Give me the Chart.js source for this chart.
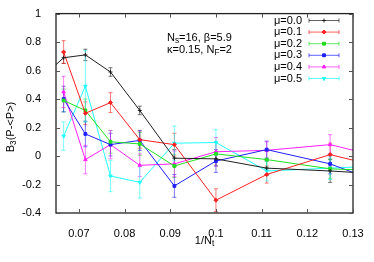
<!DOCTYPE html>
<html>
<head>
<meta charset="utf-8">
<script src="https://cdn.jsdelivr.net/npm/chart.js@4/dist/chart.umd.min.js"></script>
<style>
  body { margin: 0; background: #fff; }
</style>
</head>
<body>
<canvas id="chart" width="374" height="262"></canvas>
<script>
// Nt values, x is 1/Nt
const nt = [16, 15, 14, 13, 12, 11, 10, 9, 8, 7];
const labels = ['\u03bc=0.0', '\u03bc=0.1', '\u03bc=0.2', '\u03bc=0.3', '\u03bc=0.4', '\u03bc=0.5'];

// B3 values per mu (null = no point)
const mu00 = [0.57, 0.69, 0.71, 0.59, 0.32, -0.015, -0.02, -0.085, -0.105, -0.14];
const mu01 = [null, 0.73, 0.30, 0.375, 0.115, 0.08, -0.31, -0.13, 0.01, -0.13];
const mu02 = [null, 0.39, 0.32, 0.10, 0.085, -0.07, 0.015, -0.025, -0.09, -0.11];
const mu03 = [null, 0.40, 0.155, 0.08, 0.11, -0.21, -0.035, 0.045, -0.055, -0.27];
const mu04 = [null, 0.45, -0.025, 0.08, -0.065, -0.055, 0.03, 0.04, 0.08, -0.06];
const mu05 = [null, 0.14, 0.49, -0.14, -0.185, 0.09, 0.095, -0.105, -0.085, -0.06];

// error bars (half widths)
const err00 = [0.04, 0.04, 0.04, 0.03, 0.03, 0.06, 0.05, 0.05, 0.08, 0.08];
const err01 = [null, 0.08, 0.08, 0.07, 0.06, 0.08, 0.08, 0.06, 0.08, 0.08];
const err02 = [null, 0.08, 0.08, 0.08, 0.08, 0.08, 0.08, 0.06, 0.07, 0.08];
const err03 = [null, 0.09, 0.09, 0.08, 0.07, 0.08, 0.08, 0.06, 0.07, 0.08];
const err04 = [null, 0.11, 0.10, 0.10, 0.08, 0.09, 0.10, 0.06, 0.07, 0.08];
const err05 = [null, 0.10, 0.25, 0.11, 0.11, 0.12, 0.09, 0.07, 0.08, 0.08];

const xTicks = [0.07, 0.08, 0.09, 0.1, 0.11, 0.12, 0.13];
const yTicks = [-0.4, -0.2, 0, 0.2, 0.4, 0.6, 0.8, 1];

const colors = ['#202020', '#ff2020', '#20e020', '#2020ff', '#ff20ff', '#20ffff'];
const styles = ['cross', 'rect', 'rect', 'rect', 'triangle', 'triangle'];
const rotations = [0, 45, 0, 0, 0, 180];
const values = [mu00, mu01, mu02, mu03, mu04, mu05];
const errors = [err00, err01, err02, err03, err04, err05];

function points(vals, errs) {
  const out = [];
  vals.forEach((v, i) => {
    if (v !== null) out.push({ x: 1 / nt[i], y: v, err: errs[i] });
  });
  return out;
}

const FONT = '"Liberation Sans", Arial, sans-serif';

// draw text with subscript parts: [[text, isSub], ...]
function subText(ctx, parts, x, y, size, align) {
  let total = 0;
  parts.forEach(p => {
    ctx.font = (p[1] ? size * 0.75 : size) + 'px ' + FONT;
    total += ctx.measureText(p[0]).width;
  });
  let cx = align === 'center' ? x - total / 2 : x;
  ctx.textAlign = 'left';
  ctx.textBaseline = 'middle';
  parts.forEach(p => {
    ctx.font = (p[1] ? size * 0.75 : size) + 'px ' + FONT;
    ctx.fillText(p[0], cx, p[1] ? y + 3 : y);
    cx += ctx.measureText(p[0]).width;
  });
}

const gnuplotStuff = {
  id: 'gnuplotStuff',
  beforeDatasetsDraw(chart) {
    const ctx = chart.ctx;
    const a = chart.chartArea;
    const ys = chart.scales.y;
    ctx.save();
    ctx.beginPath();
    ctx.rect(a.left, a.top, a.right - a.left, a.bottom - a.top);
    ctx.clip();
    ctx.globalAlpha = 0.6;
    chart.data.datasets.forEach(ds => {
      ctx.strokeStyle = ds.borderColor;
      ctx.lineWidth = 1;
      ds.data.forEach(p => {
        const px = chart.scales.x.getPixelForValue(p.x);
        const y1 = ys.getPixelForValue(p.y + p.err);
        const y2 = ys.getPixelForValue(p.y - p.err);
        ctx.beginPath();
        ctx.moveTo(px, y1); ctx.lineTo(px, y2);
        ctx.moveTo(px - 2, y1); ctx.lineTo(px + 2, y1);
        ctx.moveTo(px - 2, y2); ctx.lineTo(px + 2, y2);
        ctx.stroke();
      });
    });
    ctx.restore();
  },
  afterDraw(chart) {
    const ctx = chart.ctx;
    const a = chart.chartArea;
    const xs = chart.scales.x, ys = chart.scales.y;
    ctx.save();
    // border
    ctx.strokeStyle = '#222';
    ctx.lineWidth = 1.3;
    ctx.strokeRect(a.left, a.top, a.right - a.left, a.bottom - a.top);
    // inward ticks on all sides
    ctx.lineWidth = 1;
    ctx.strokeStyle = '#555';
    ctx.beginPath();
    xTicks.forEach(t => {
      const px = Math.round(xs.getPixelForValue(t)) + 0.5;
      ctx.moveTo(px, a.bottom); ctx.lineTo(px, a.bottom - 4);
      ctx.moveTo(px, a.top); ctx.lineTo(px, a.top + 4);
    });
    yTicks.forEach(t => {
      const py = Math.round(ys.getPixelForValue(t)) + 0.5;
      ctx.moveTo(a.left, py); ctx.lineTo(a.left + 4, py);
      ctx.moveTo(a.right, py); ctx.lineTo(a.right - 4, py);
    });
    ctx.stroke();

    ctx.fillStyle = '#000';
    // axis titles
    subText(ctx, [['1/N', false], ['t', true]], (a.left + a.right) / 2, 241, 11, 'center');
    ctx.save();
    ctx.translate(11, 127);
    ctx.rotate(-Math.PI / 2);
    subText(ctx, [['B', false], ['3', true], ['(P-<P>)', false]], 0, 0, 11, 'center');
    ctx.restore();

    // annotation
    subText(ctx, [['N', false], ['s', true], ['=16, \u03b2=5.9', false]], 167, 38, 11, 'left');
    subText(ctx, [['\u03ba=0.15, N', false], ['F', true], ['=2', false]], 167, 50, 11, 'left');

    // legend
    chart.data.datasets.forEach((ds, i) => {
      const y = 20.5 + i * 11.6;
      ctx.font = '11px ' + FONT;
      ctx.textAlign = 'right';
      ctx.textBaseline = 'middle';
      ctx.fillStyle = '#000';
      ctx.fillText(ds.label, 302, y);
      ctx.strokeStyle = ds.borderColor;
      ctx.lineWidth = 1;
      ctx.globalAlpha = 0.7;
      ctx.beginPath();
      ctx.moveTo(309, y); ctx.lineTo(339, y);
      ctx.moveTo(309, y - 2); ctx.lineTo(309, y + 2);
      ctx.moveTo(339, y - 2); ctx.lineTo(339, y + 2);
      ctx.stroke();
      ctx.globalAlpha = 1;
      Chart.helpers.drawPoint(ctx, {
        pointStyle: ds.pointStyle, radius: ds.pointRadius, rotation: ds.pointRotation, borderWidth: 1
      }, 324, y);
      ctx.fillStyle = ds.borderColor;
      ctx.fill();
    });
    ctx.restore();
  }
};

new Chart(document.getElementById('chart'), {
  type: 'line',
  data: {
    datasets: values.map((v, i) => ({
      label: labels[i],
      data: points(v, errors[i]),
      borderColor: colors[i],
      backgroundColor: colors[i],
      borderWidth: 1,
      pointStyle: styles[i],
      pointRotation: rotations[i],
      pointRadius: 2,
      pointBorderWidth: 1,
      tension: 0
    }))
  },
  options: {
    responsive: false,
    animation: false,
    layout: { padding: { top: 12, right: 21, left: 0, bottom: 0 } },
    plugins: { legend: { display: false }, tooltip: { enabled: false } },
    scales: {
      x: {
        type: 'linear',
        min: 0.065,
        max: 0.13,
        afterFit: s => { s.height = 49; },
        grid: { display: false },
        border: { display: false },
        ticks: {
          includeBounds: false,
          stepSize: 0.01,
          padding: 6,
          color: '#000',
          font: { family: FONT, size: 11 },
          callback: v => String(Math.round(v * 100) / 100)
        }
      },
      y: {
        min: -0.4,
        max: 1,
        afterFit: s => { s.width = 56; },
        grid: { display: false },
        border: { display: false },
        ticks: {
          stepSize: 0.2,
          padding: 7,
          color: '#000',
          font: { family: FONT, size: 11 },
          callback: v => String(Math.round(v * 10) / 10)
        }
      }
    }
  },
  plugins: [gnuplotStuff]
});
</script>
</body>
</html>
